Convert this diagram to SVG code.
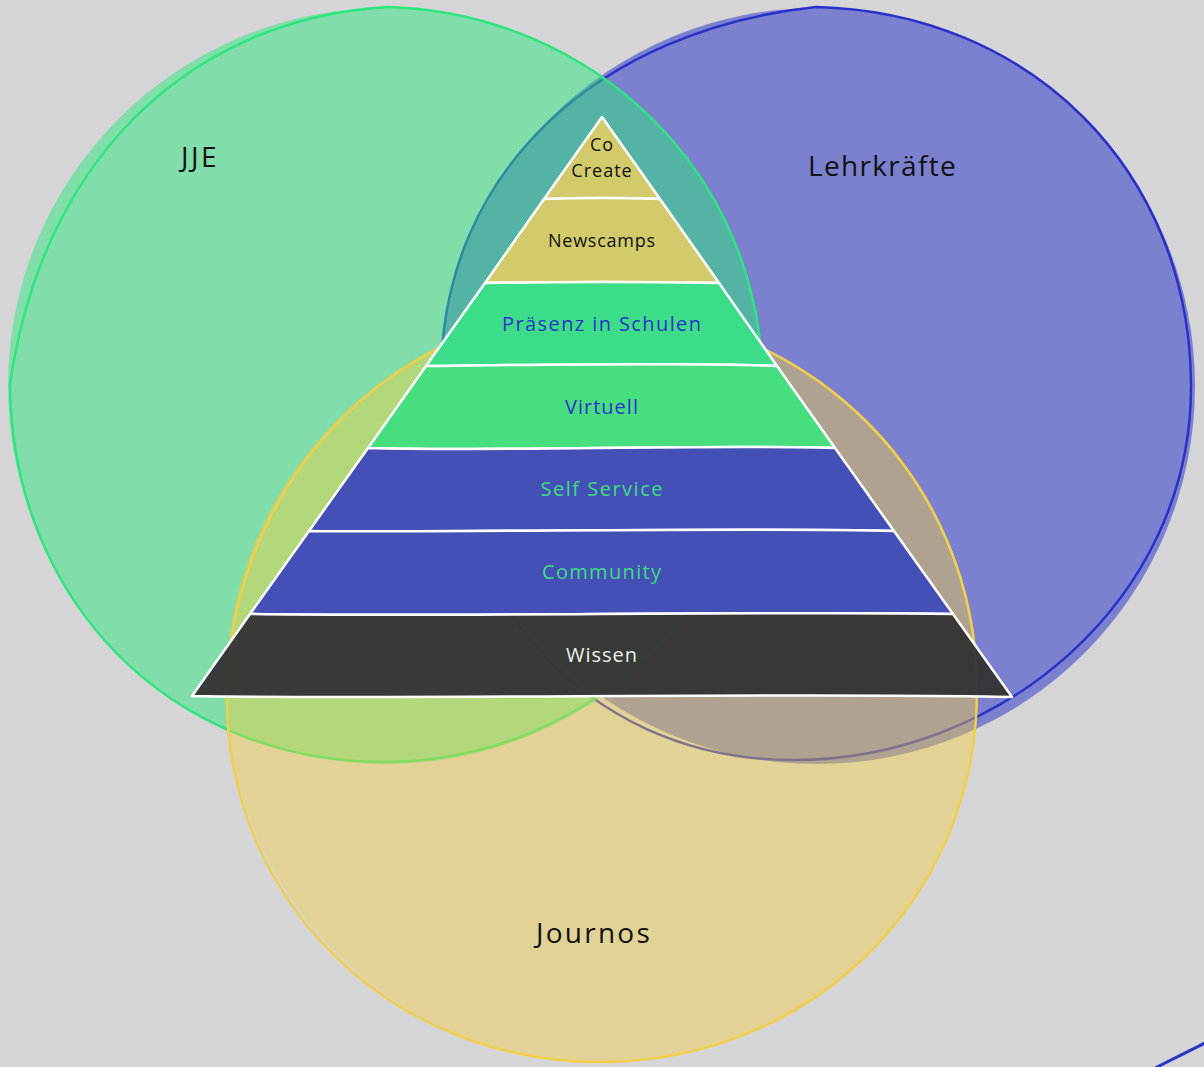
<svg xmlns="http://www.w3.org/2000/svg" width="1204" height="1067" viewBox="0 0 1204 1067">
<style>
.big{font-family:"Open Sans","Liberation Sans",sans-serif;font-size:28px;fill:#111;letter-spacing:1.2px}
.lbl{font-family:"Open Sans","Liberation Sans",sans-serif;font-size:20px;text-anchor:middle;letter-spacing:1px}
.sm{font-size:18px}
.layer{stroke:#fff;stroke-width:2.5;stroke-linejoin:round}
</style>
<rect width="1204" height="1067" fill="#d5d5d7"/>
<g id="lehrkraefte">
<circle cx="817" cy="386" r="378" fill="#2a34c8" fill-opacity="0.52"/>
<path d="M816,7 C1030,12 1190,170 1191,385 C1192,600 1000,762 790,760 C580,758 443,590 441,380 C440,170 600,30 816,7 Z" fill="none" stroke="#2a30c8" stroke-width="2.5"/>
<text class="big" x="808" y="176" textLength="149" lengthAdjust="spacing">Lehrkräfte</text>
</g>
<g id="jje">
<circle cx="386" cy="386" r="378" fill="#2ee57e" fill-opacity="0.5"/>
<path d="M387,7 C590,12 760,170 762,380 C763,590 600,760 385,762 C170,762 12,600 10,385 C40,170 180,20 387,7 Z" fill="none" stroke="#2ee57e" stroke-width="2.5"/>
<text class="big" x="181" y="167" font-size="29" style="letter-spacing:2.5px">JJE</text>
</g>
<g id="journos">
<circle cx="602" cy="687" r="376" fill="#f8d03c" fill-opacity="0.42"/>
<path d="M600,311 C810,313 977,480 977,690 C977,900 810,1062 600,1062 C390,1062 228,900 227,700 C226,490 390,309 600,311 Z" fill="none" stroke="#f2cf4b" stroke-width="2.5"/>
<text class="big" x="536" y="943" textLength="115" lengthAdjust="spacing">Journos</text>
</g>
<g id="connectors">
<line x1="1155" y1="1068" x2="1205" y2="1043" stroke="#2a34c8" stroke-width="3"/>
</g>
<g id="pyramid">
<g id="cocreate">
<path class="layer" fill="#d3cb6b" d="M602,117 L660,199 Q602,197 544,199 Z"/>
<text class="lbl sm" x="602" y="151" fill="#111">Co</text>
<text class="lbl sm" x="602" y="177" fill="#111">Create</text>
</g>
<g id="newscamps">
<path class="layer" fill="#d3cb6b" d="M544,199 Q602,197 660,199 L719,283 Q602,281 485,283 Z"/>
<text class="lbl sm" x="602" y="247" fill="#111" textLength="108" lengthAdjust="spacing">Newscamps</text>
</g>
<g id="praesenz">
<path class="layer" fill="#3bdd88" d="M485,283 Q602,281 719,283 L777,366 C700,362 520,365 426,366 Z"/>
<text class="lbl" x="602" y="331" fill="#2a34c8" textLength="200" lengthAdjust="spacing">Präsenz in Schulen</text>
</g>
<g id="virtuell">
<path class="layer" fill="#47de7f" d="M426,366 C520,365 700,362 777,366 L835,448 C700,444 500,452 368,448 Z"/>
<text class="lbl" x="602" y="414" fill="#2a34c8">Virtuell</text>
</g>
<g id="selfservice">
<path class="layer" fill="#4450b5" d="M368,448 C500,452 700,444 835,448 L894,531 C750,527 450,533 309,531 Z"/>
<text class="lbl" x="602" y="496" fill="#3ddc84" textLength="123" lengthAdjust="spacing">Self Service</text>
</g>
<g id="community">
<path class="layer" fill="#4450b5" d="M309,531 C450,533 750,527 894,531 L953,614 C800,611 400,617 250,614 Z"/>
<text class="lbl" x="602" y="579" fill="#3ddc84" textLength="120" lengthAdjust="spacing">Community</text>
</g>
<g id="wissen">
<path class="layer" fill="#333333" fill-opacity="0.95" d="M250,614 C400,617 800,611 953,614 L1012,697 C800,692 400,700 192,696 Z"/>
<text class="lbl" x="602" y="662" fill="#eeeeee">Wissen</text>
</g>
</g>
</svg>
